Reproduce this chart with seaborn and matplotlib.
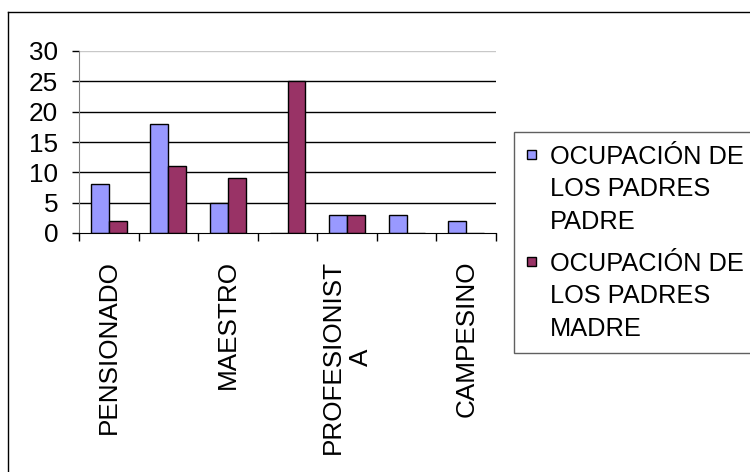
import matplotlib
matplotlib.use("Agg")
import numpy as np
import pandas as pd
import matplotlib.pyplot as plt
import seaborn as sns
from matplotlib.patches import Patch, Rectangle
from matplotlib.legend_handler import HandlerPatch
from matplotlib.lines import Line2D

# data
categories = ["PENSIONADO", "sin etiqueta 2", "MAESTRO", "sin etiqueta 4",
              "PROFESIONISTA", "sin etiqueta 6", "CAMPESINO"]
tick_labels = ["PENSIONADO", "", "MAESTRO", "", "PROFESIONIST\nA", "", "CAMPESINO"]
padre = [8, 18, 5, 0, 3, 3, 2]
madre = [2, 11, 9, 25, 3, 0, 0]
series = ["OCUPACIÓN DE\nLOS PADRES\nPADRE", "OCUPACIÓN DE\nLOS PADRES\nMADRE"]
colors = ["#9999FF", "#993366"]
y_ticks = [0, 5, 10, 15, 20, 25, 30]

plt.rcParams['font.family'] = ['Liberation Sans', 'DejaVu Sans']
FS = 18.8
FS_LEG = 18.3

df = pd.DataFrame({
    "ocupacion": categories * 2,
    "valor": padre + madre,
    "serie": [series[0]] * len(categories) + [series[1]] * len(categories),
})

fig = plt.figure(figsize=(7.5, 4.72), dpi=100)
ax = fig.add_axes([79 / 750, 1 - 233 / 472, (496 - 79) / 750, (233 - 51) / 472])

sns.barplot(data=df, x="ocupacion", y="valor", hue="serie", order=categories,
            hue_order=series, palette=colors, saturation=1, width=0.6,
            edgecolor="black", linewidth=1, legend=False, ax=ax, zorder=3)

ax.set_xlim(-0.5, len(categories) - 0.5)
ax.set_ylim(0, 30)
ax.set_yticks(y_ticks)
ax.set_yticklabels([str(v) for v in y_ticks], fontsize=FS)
for v in y_ticks[1:-1]:
    ax.axhline(v, color="black", lw=1, zorder=1)
ax.axhline(y_ticks[-1], color="#c8c8c8", lw=1, zorder=1)

for s in ["top", "right"]:
    ax.spines[s].set_visible(False)
ax.spines["left"].set_color("#808080")
ax.spines["bottom"].set_color("black")
ax.spines["bottom"].set_zorder(4)

ax.set_xticks(range(len(categories)))
ax.set_xticklabels(tick_labels, rotation=90, va="top", ha="center", fontsize=FS)
ax.set_xticks(np.arange(-0.5, len(categories), 1), minor=True)
ax.tick_params(axis="x", which="major", length=0, pad=19.5)
ax.tick_params(axis="x", which="minor", length=6, width=1, direction="out")
ax.tick_params(axis="y", length=5, width=1, pad=10, direction="out")
ax.set_xlabel("")
ax.set_ylabel("")


def square(legend, orig_handle, xdescent, ydescent, width, height, fontsize):
    s = 0.37 * fontsize
    return Rectangle((-xdescent, -ydescent + height - s - 0.2 * fontsize), s, s)


handles = [Patch(facecolor=c, edgecolor="black", lw=1) for c in colors]
leg = fig.legend(handles, series, loc="upper left",
                 bbox_to_anchor=(514 / 750, 1 - 132 / 472), borderaxespad=0,
                 frameon=True, fancybox=False, edgecolor="#606060", framealpha=1,
                 fontsize=FS_LEG, handlelength=0.4, handleheight=0.8,
                 handletextpad=0.5, borderpad=0.5, labelspacing=0.7,
                 handler_map={Patch: HandlerPatch(patch_func=square)})
leg.get_frame().set_linewidth(1)
for t in leg.get_texts():
    t.set_linespacing(1.45)
for col in leg._legend_handle_box.get_children():
    for row in col.get_children():
        row.align = "top"

# outer chart border
fig.add_artist(Line2D([8 / 750, 1], [1 - 12 / 472] * 2, color="black", lw=1,
                      transform=fig.transFigure))
fig.add_artist(Line2D([8 / 750] * 2, [0, 1 - 12 / 472], color="black", lw=1,
                      transform=fig.transFigure))

fig.savefig("out.png", dpi=100)
